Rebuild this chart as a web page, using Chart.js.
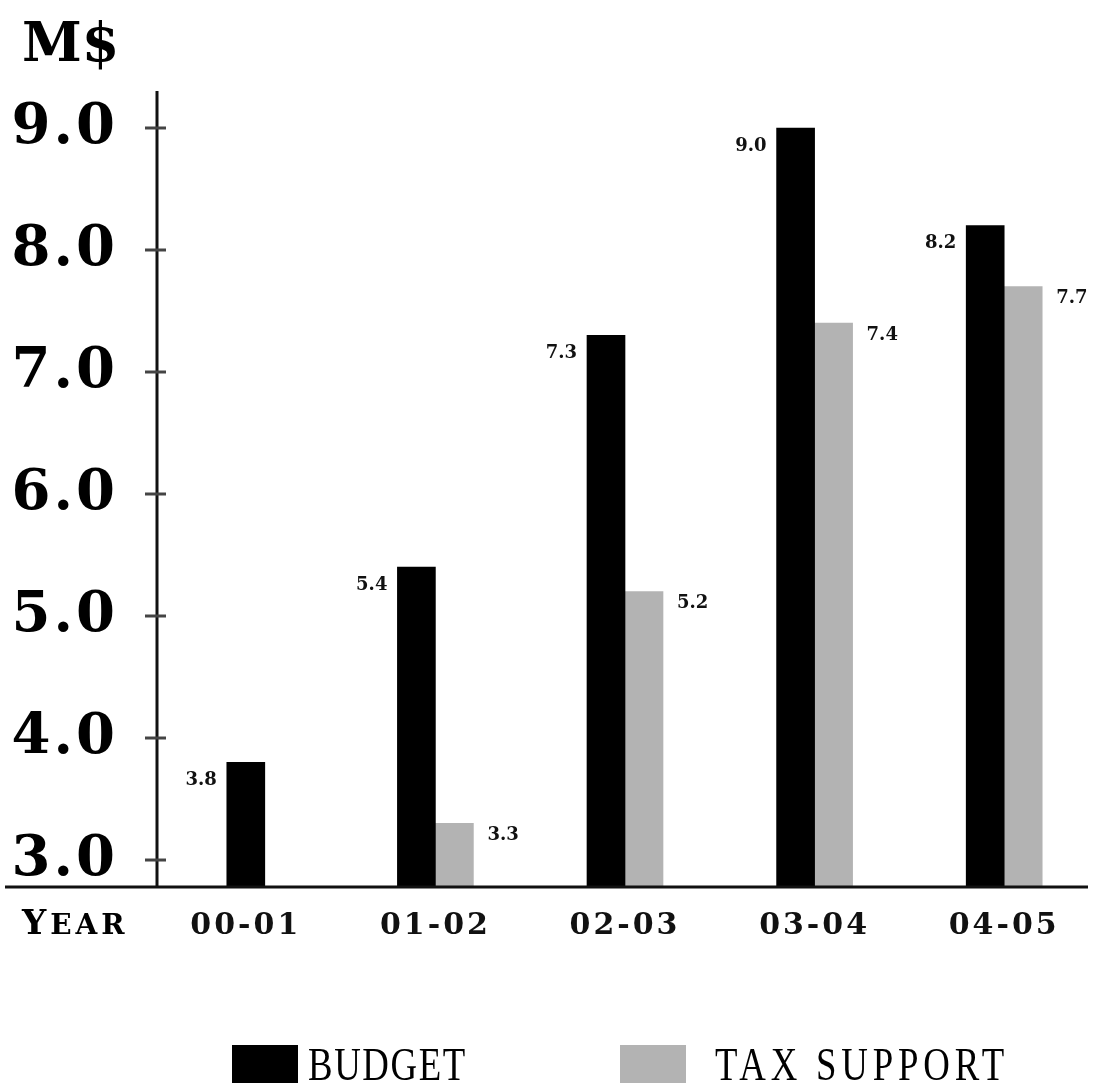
<!DOCTYPE html>
<html lang="en">
<head>
    <meta charset="UTF-8">
    <title>Budget vs Tax Support</title>
    <style>
        html, body { margin: 0; padding: 0; background: #fff; }
        #wrap { width: 1099px; height: 1085px; }
    </style>
</head>
<body>
    <div id="wrap"><canvas id="myChart"></canvas></div>

    <script src="https://cdn.jsdelivr.net/npm/chart.js"></script>
    <script>
        const years = ["00-01", "01-02", "02-03", "03-04", "04-05"];
        const budget = [3.8, 5.4, 7.3, 9.0, 8.2];
        const taxSupport = [null, 3.3, 5.2, 7.4, 7.7];
        const yTicks = [3.0, 4.0, 5.0, 6.0, 7.0, 8.0, 9.0];

        const serif = "'DejaVu Serif', serif";

        // squeezed text for the legend
        function narrowText(ctx, text, x, y, sx) {
            ctx.save();
            ctx.translate(x, y);
            ctx.scale(sx, 1);
            ctx.fillText(text, 0, 0);
            ctx.restore();
        }

        const decorations = {
            id: "decorations",
            beforeDraw(chart) {
                // wide spacing for the axis tick labels
                chart.ctx.letterSpacing = "3px";
            },
            beforeDatasetsDraw(chart) {
                chart.ctx.letterSpacing = "0px";
            },
            afterDatasetsDraw(chart) {
                const ctx = chart.ctx;
                const area = chart.chartArea;
                const y = chart.scales.y;
                const axisX = area.left + 6;
                ctx.save();

                // axis lines
                ctx.strokeStyle = "#111";
                ctx.lineWidth = 3;
                ctx.beginPath();
                ctx.moveTo(axisX, area.top - 1);
                ctx.lineTo(axisX, area.bottom);
                ctx.moveTo(5, area.bottom + 1);
                ctx.lineTo(1088, area.bottom + 1);
                ctx.stroke();

                // crossing tick marks
                ctx.strokeStyle = "#444";
                yTicks.forEach(v => {
                    const py = y.getPixelForValue(v);
                    ctx.beginPath();
                    ctx.moveTo(axisX - 12, py);
                    ctx.lineTo(axisX + 9, py);
                    ctx.stroke();
                });

                // value labels
                ctx.fillStyle = "#111";
                ctx.font = "bold 18px " + serif;
                ctx.textBaseline = "middle";
                chart.data.datasets.forEach((ds, di) => {
                    const meta = chart.getDatasetMeta(di);
                    meta.data.forEach((bar, i) => {
                        const v = ds.data[i];
                        if (v === null) return;
                        const half = bar.width / 2;
                        if (di === 0) {
                            ctx.textAlign = "right";
                            ctx.fillText(v.toFixed(1), bar.x - half - 10, bar.y + 18);
                        } else {
                            ctx.textAlign = "left";
                            ctx.fillText(v.toFixed(1), bar.x + half + 14, bar.y + 12);
                        }
                    });
                });

                // unit title
                ctx.textAlign = "left";
                ctx.textBaseline = "alphabetic";
                ctx.font = "bold 54px " + serif;
                ctx.fillStyle = "#000";
                ctx.fillText("M$", 22, 61);

                // x axis caption, small caps look
                ctx.letterSpacing = "4px";
                ctx.font = "bold 34px " + serif;
                ctx.fillText("Y", 22, 934);
                const yw = ctx.measureText("Y").width;
                ctx.font = "bold 28px " + serif;
                ctx.fillText("EAR", 22 + yw, 934);
                ctx.letterSpacing = "0px";

                // legend
                const items = [
                    { x: 232, textX: 308, spacing: "2px" },
                    { x: 620, textX: 715, spacing: "6px" }
                ];
                ctx.font = "46px 'Liberation Serif', serif";
                chart.data.datasets.forEach((ds, di) => {
                    const it = items[di];
                    ctx.fillStyle = ds.backgroundColor;
                    ctx.fillRect(it.x, 1045, 66, 38);
                    ctx.fillStyle = "#000";
                    ctx.letterSpacing = it.spacing;
                    narrowText(ctx, ds.label.toUpperCase(), it.textX, 1080, 0.8);
                });

                ctx.restore();
            }
        };

        const ctx = document.getElementById("myChart");

        new Chart(ctx, {
            type: "bar",
            data: {
                labels: years,
                datasets: [{
                    label: "Budget",
                    data: budget,
                    backgroundColor: "#000000",
                    barThickness: 38,
                    skipNull: true
                }, {
                    label: "Tax Support",
                    data: taxSupport,
                    backgroundColor: "#b3b3b3",
                    barThickness: 38,
                    skipNull: true
                }]
            },
            options: {
                responsive: true,
                maintainAspectRatio: false,
                animation: false,
                layout: {
                    padding: { top: 92, left: 0, right: 0, bottom: 0 }
                },
                scales: {
                    x: {
                        grid: { display: false, drawTicks: false },
                        border: { display: false },
                        ticks: {
                            color: "#111",
                            padding: 22,
                            font: { family: serif, size: 30, weight: "bold" }
                        },
                        afterFit: (scale) => { scale.height = 199; }
                    },
                    y: {
                        min: 2.787,
                        max: 9.295,
                        afterBuildTicks: (scale) => {
                            scale.ticks = yTicks.map(v => ({ value: v }));
                        },
                        grid: { display: false, drawTicks: false },
                        border: { display: false },
                        ticks: {
                            color: "#000",
                            padding: 33,
                            callback: (v) => Number(v).toFixed(1),
                            font: { family: serif, size: 56, weight: "bold" }
                        },
                        afterFit: (scale) => { scale.width = 151; }
                    }
                },
                plugins: {
                    legend: { display: false },
                    tooltip: { enabled: false }
                }
            },
            plugins: [decorations]
        });
    </script>
</body>
</html>
